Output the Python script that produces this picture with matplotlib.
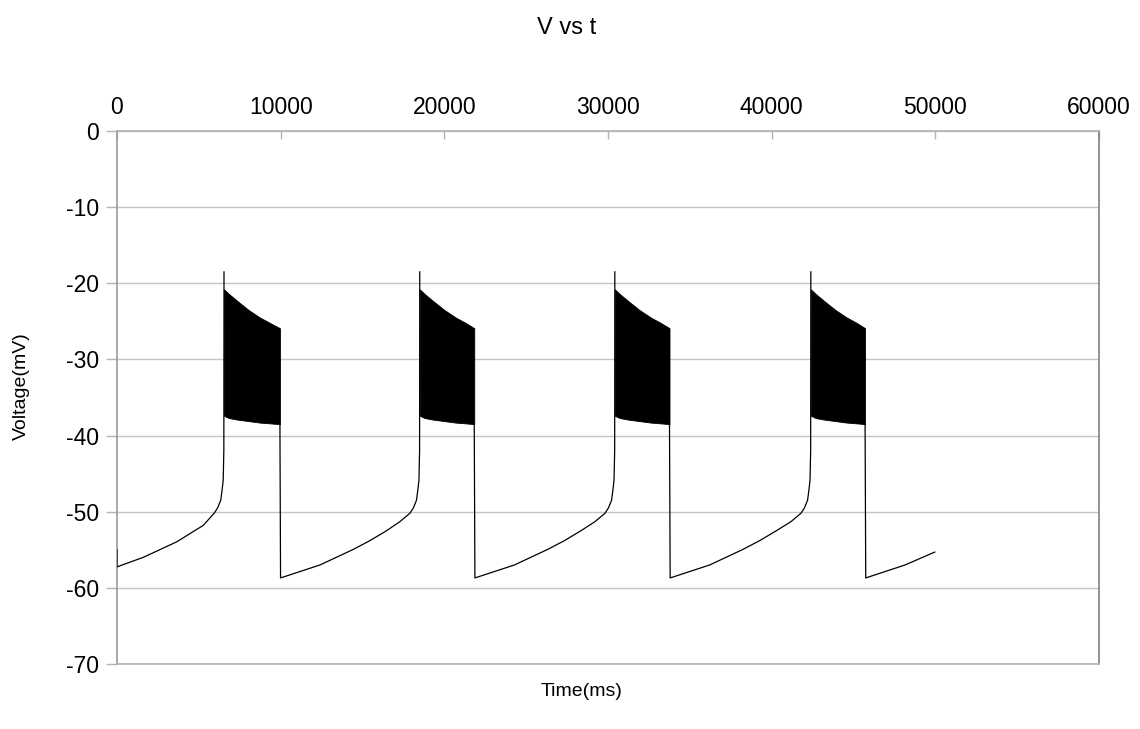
import numpy as np
import matplotlib
matplotlib.use("Agg")
import matplotlib.pyplot as plt

plt.rcParams['font.family'] = ['Liberation Sans', 'DejaVu Sans']

nan = np.nan

# Membrane potential between bursts (NaN breaks the line where a burst sits)
time_ms = [
    0, 0, 1600, 3650, 5270, 5940, 6150, 6340, 6420, 6490, 6530, 6540, nan,
    9957, 9995, 12400, 14440, 15455, 16470, 17290, 17900, 18110, 18300, 18380, 18450, 18490, 18500, nan,
    21830, 21870, 24280, 26320, 27340, 28350, 29210, 29820, 30030, 30220, 30300, 30370, 30410, 30420, nan,
    33760, 33800, 36210, 38250, 39270, 40290, 41185, 41795, 42005, 42195, 42275, 42345, 42385, 42395, nan,
    45710, 45750, 48150, 49970,
]
voltage_mv = [
    -55.0, -57.25, -56.0, -53.96, -51.8, -50.2, -49.5, -48.5, -47.2, -45.9, -42.0, -18.5, nan,
    -38.5, -58.7, -57.0, -54.95, -53.8, -52.5, -51.3, -50.2, -49.5, -48.5, -47.2, -45.9, -42.0, -18.5, nan,
    -38.5, -58.7, -57.0, -54.95, -53.8, -52.5, -51.3, -50.2, -49.5, -48.5, -47.2, -45.9, -42.0, -18.5, nan,
    -38.5, -58.7, -57.0, -54.95, -53.8, -52.5, -51.3, -50.2, -49.5, -48.5, -47.2, -45.9, -42.0, -18.5, nan,
    -38.5, -58.7, -57.0, -55.3,
]

# Spiking phase of each burst: upper and lower envelope of the fast spikes
burst_t = [
    [6540, 6840, 7340, 8040, 8740, 9340, 9957],
    [18500, 18800, 19300, 20000, 20700, 21300, 21830],
    [30420, 30720, 31220, 31920, 32620, 33220, 33760],
    [42395, 42695, 43195, 43895, 44595, 45195, 45710],
]
burst_upper = [
    [-20.8, -21.4, -22.3, -23.5, -24.5, -25.2, -25.9],
    [-20.8, -21.4, -22.3, -23.5, -24.5, -25.2, -25.9],
    [-20.8, -21.4, -22.3, -23.5, -24.5, -25.2, -25.9],
    [-20.8, -21.4, -22.3, -23.5, -24.5, -25.2, -25.9],
]
burst_lower = [
    [-37.4, -37.7, -37.9, -38.1, -38.3, -38.4, -38.5],
    [-37.4, -37.7, -37.9, -38.1, -38.3, -38.4, -38.5],
    [-37.4, -37.7, -37.9, -38.1, -38.3, -38.4, -38.5],
    [-37.4, -37.7, -37.9, -38.1, -38.3, -38.4, -38.5],
]

x_ticks = [0, 10000, 20000, 30000, 40000, 50000, 60000]
y_ticks = [-70, -60, -50, -40, -30, -20, -10, 0]

fig = plt.figure(figsize=(11.4, 7.29), dpi=100)
ax = fig.add_axes([0.1026, 0.0892, 0.8614, 0.7311])

for yv in y_ticks:
    ax.axhline(yv, color='#c4c4c4', lw=1.0, zorder=0)

ax.plot(time_ms, voltage_mv, color='black', lw=0.9, zorder=3)
for t, up, lo in zip(burst_t, burst_upper, burst_lower):
    ax.fill_between(t, lo, up, color='black', lw=0.6, edgecolor='black', zorder=3)

ax.set_xlim(0, 60000)
ax.set_ylim(-70, 0)
ax.set_xticks(x_ticks)
ax.set_yticks(y_ticks)
ax.set_xticklabels([str(v) for v in x_ticks])
ax.set_yticklabels([str(v) for v in y_ticks])

ax.xaxis.tick_top()
ax.tick_params(axis='x', direction='in', length=6, width=1, color='#b3b3b3',
               labelsize=16.5, pad=9)
ax.tick_params(axis='y', direction='out', length=8, width=1, color='#b3b3b3',
               labelsize=16.5, pad=5)

for side in ['top', 'bottom']:
    ax.spines[side].set_color('#b3b3b3')
ax.spines['left'].set_color('#9a9a9a')
ax.spines['right'].set_color('#808080')
for s in ax.spines.values():
    s.set_linewidth(1.2)

fig.text(0.497, 0.962, "V vs t", ha='center', va='center', fontsize=17)
fig.text(0.51, 0.052, "Time(ms)", ha='center', va='center', fontsize=14)
fig.text(0.019, 0.4705, "Voltage(mV)", ha='center', va='center', rotation=90, fontsize=14)

fig.savefig("out.png", dpi=100)
